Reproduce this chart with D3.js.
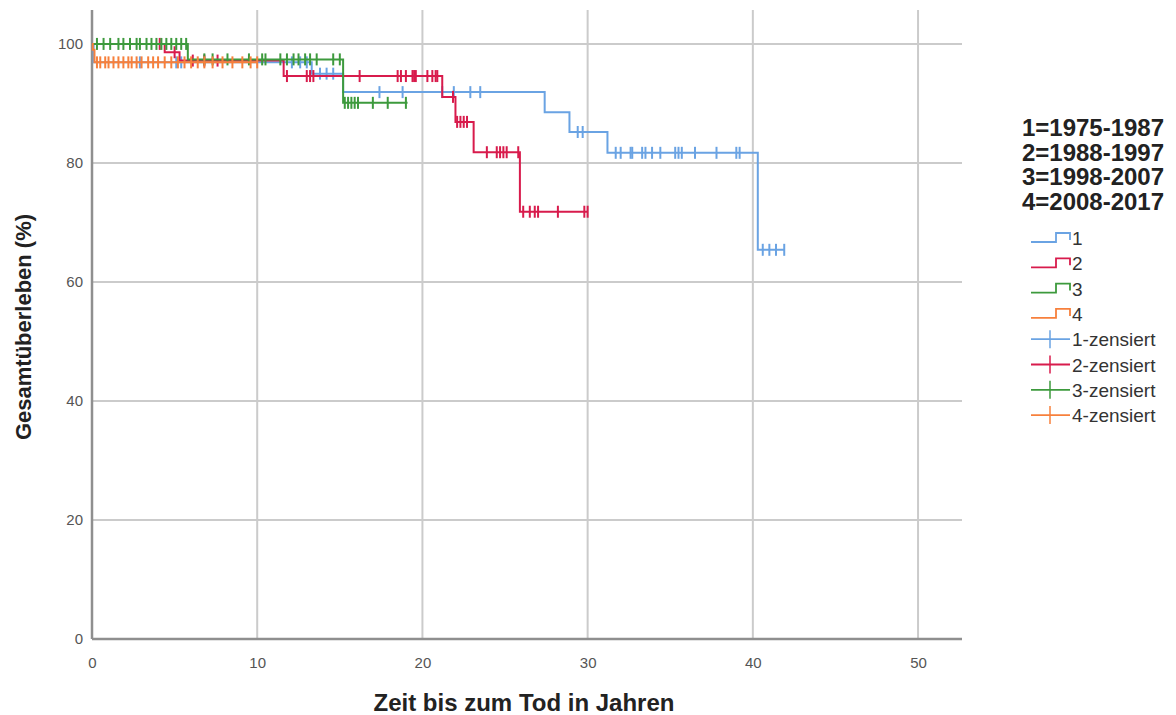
<!DOCTYPE html>
<html><head><meta charset="utf-8">
<script src="https://cdn.jsdelivr.net/npm/d3@7"></script>
<style>body{margin:0;background:#fff}svg{display:block}text{font-family:"Liberation Sans",Arial,sans-serif}</style>
</head><body><svg id="c" width="1176" height="715"></svg>
<script>
// ---- data ----
const groups = ["1", "2", "3", "4"];
const legendTitle = ["1=1975-1987", "2=1988-1997", "3=1998-2007", "4=2008-2017"];
const colors = ["#6aa3e3", "#d81b4c", "#3d9a3d", "#f7803c"];
const xTicks = [0, 10, 20, 30, 40, 50];
const yTicks = [0, 20, 40, 60, 80, 100];
// step times and survival (%)
const times1 = [0, 0.1, 13.3, 15.2, 27.4, 28.9, 31.2, 40.3];
const surv1  = [100, 96.9, 95.0, 91.9, 88.5, 85.2, 81.7, 65.4];
const end1 = 41.9;
const cens1 = [2.9, 5.1, 5.4, 12.1, 12.6, 13.0, 13.8, 14.2, 14.6, 17.4, 18.8, 21.2, 21.9, 22.9, 23.5, 29.4, 29.7,
  31.7, 32.0, 32.6, 32.7, 33.3, 33.5, 33.9, 34.4, 35.3, 35.5, 35.7, 36.5, 37.8, 39.0, 39.2, 40.6, 41.0, 41.4, 41.9];
const times2 = [0, 4.4, 5.3, 11.6, 21.2, 22.0, 23.1, 25.9];
const surv2  = [100, 98.6, 97.2, 94.6, 91.1, 86.9, 81.8, 71.8];
const end2 = 30.0;
const cens2 = [4.1, 5.0, 6.1, 6.8, 7.6, 11.8, 13.0, 13.2, 13.4, 16.2, 18.5, 18.7, 19.0, 19.4, 19.5, 19.6,
  20.3, 20.6, 20.8, 20.9, 21.85, 22.1, 22.3, 22.5, 22.7, 23.9, 24.5, 24.7, 24.9, 25.1, 25.8,
  26.1, 26.5, 26.8, 27.0, 28.2, 29.8, 30.0];
const times3 = [0, 5.8, 15.2];
const surv3  = [100, 97.4, 90.1];
const end3 = 19.1;
const cens3 = [0.3, 0.7, 1.1, 1.6, 1.9, 2.3, 2.7, 2.9, 3.3, 3.6, 3.9, 4.2, 4.5, 4.8, 5.1, 5.4, 5.7,
  6.8, 7.3, 8.2, 9.5, 10.3, 10.5, 11.4, 11.8, 12.2, 12.5, 12.9, 13.2, 13.6, 14.6, 15.0,
  15.3, 15.5, 15.7, 15.9, 16.1, 17.0, 17.9, 19.0];
const times4 = [0, 0.05, 0.15];
const surv4  = [100, 99.0, 96.9];
const end4 = 10.0;
const cens4 = [0.3, 0.5, 0.8, 1.0, 1.3, 1.6, 1.9, 2.2, 2.4, 2.7, 3.0, 3.4, 3.7, 4.0, 4.4, 4.8, 5.2,
  5.6, 6.0, 6.4, 6.8, 7.3, 7.9, 8.5, 9.1, 9.6, 10.0];

const series = [
  {t: times1, s: surv1, end: end1, c: cens1},
  {t: times2, s: surv2, end: end2, c: cens2},
  {t: times3, s: surv3, end: end3, c: cens3},
  {t: times4, s: surv4, end: end4, c: cens4}
];

// ---- drawing ----
const svg = d3.select("#c");
const L = 92, R = 962, T = 10, B = 639;
const x = d3.scaleLinear().domain([0, 52.66]).range([L, R]);
const y = d3.scaleLinear().domain([0, 105.7]).range([B, T]);

const grid = svg.append("g");
grid.selectAll("line.h").data(yTicks.filter(d => d > 0)).join("line")
  .attr("x1", L).attr("x2", R).attr("y1", d => y(d)).attr("y2", d => y(d))
  .attr("stroke", "#cbcbcb").attr("stroke-width", 2);
grid.selectAll("line.v").data(xTicks.filter(d => d > 0)).join("line")
  .attr("y1", T).attr("y2", B).attr("x1", d => x(d)).attr("x2", d => x(d))
  .attr("stroke", "#cbcbcb").attr("stroke-width", 2);

// axes
const xAxis = svg.append("g").attr("transform", `translate(0,${B})`)
  .call(d3.axisBottom(x).tickValues(xTicks).tickSize(0).tickPadding(18));
xAxis.select(".domain").attr("d", `M${L},0H${R}`).attr("stroke", "#8f8f8f").attr("stroke-width", 2.5);
xAxis.selectAll("text").attr("font-size", 15).attr("fill", "#555").attr("font-family", "Liberation Sans, Arial, sans-serif");
const yAxis = svg.append("g").attr("transform", `translate(${L},0)`)
  .call(d3.axisLeft(y).tickValues(yTicks).tickSize(0).tickPadding(9));
yAxis.select(".domain").attr("d", `M0,${T}V${B}`).attr("stroke", "#8f8f8f").attr("stroke-width", 2.5);
yAxis.selectAll("text").attr("font-size", 15).attr("fill", "#555").attr("font-family", "Liberation Sans, Arial, sans-serif");

function survAt(sr, t) {
  let v = sr.s[0];
  for (let i = 0; i < sr.t.length; i++) if (sr.t[i] <= t) v = sr.s[i];
  return v;
}
const line = d3.line().x(d => x(d[0])).y(d => y(d[1])).curve(d3.curveStepAfter);

series.forEach((sr, i) => {
  const pts = sr.t.map((t, k) => [t, sr.s[k]]);
  pts.push([sr.end, sr.s[sr.s.length - 1]]);
  svg.append("path").attr("d", line(pts)).attr("fill", "none")
    .attr("stroke", colors[i]).attr("stroke-width", 2);
  svg.append("g").selectAll("line").data(sr.c).join("line")
    .attr("x1", d => x(d)).attr("x2", d => x(d))
    .attr("y1", d => y(survAt(sr, d)) - 6).attr("y2", d => y(survAt(sr, d)) + 6)
    .attr("stroke", colors[i]).attr("stroke-width", 2);
});

// axis titles
svg.append("text").attr("x", 524).attr("y", 711).attr("text-anchor", "middle")
  .attr("font-size", 24).attr("font-weight", "bold").attr("fill", "#222").text("Zeit bis zum Tod in Jahren");
svg.append("text").attr("transform", "translate(31,327) rotate(-90)").attr("text-anchor", "middle")
  .attr("font-size", 22).attr("font-weight", "bold").attr("fill", "#222").text("Gesamtüberleben (%)");

// legend
const lg = svg.append("g");
lg.selectAll("text.t").data(legendTitle).join("text")
  .attr("x", 1093).attr("y", (d, i) => 136 + i * 24.5).attr("text-anchor", "middle")
  .attr("font-size", 24).attr("font-weight", "bold").attr("fill", "#222").text(d => d);
const rowY = i => 238 + i * 25.3;
groups.forEach((g, i) => {
  const yy = rowY(i);
  lg.append("path").attr("d", `M1031,${yy + 4}H1056V${yy - 5}H1070V${yy + 2}`)
    .attr("fill", "none").attr("stroke", colors[i]).attr("stroke-width", 1.8);
  lg.append("text").attr("x", 1072).attr("y", yy + 7).attr("font-size", 19).attr("fill", "#333").text(g);
});
groups.forEach((g, i) => {
  const yy = rowY(i + 4);
  lg.append("line").attr("x1", 1031).attr("x2", 1070).attr("y1", yy).attr("y2", yy)
    .attr("stroke", colors[i]).attr("stroke-width", 1.8);
  lg.append("line").attr("x1", 1050).attr("x2", 1050).attr("y1", yy - 9).attr("y2", yy + 9)
    .attr("stroke", colors[i]).attr("stroke-width", 1.5);
  lg.append("text").attr("x", 1072).attr("y", yy + 7).attr("font-size", 19).attr("fill", "#333").text(g + "-zensiert");
});
</script></body></html>
